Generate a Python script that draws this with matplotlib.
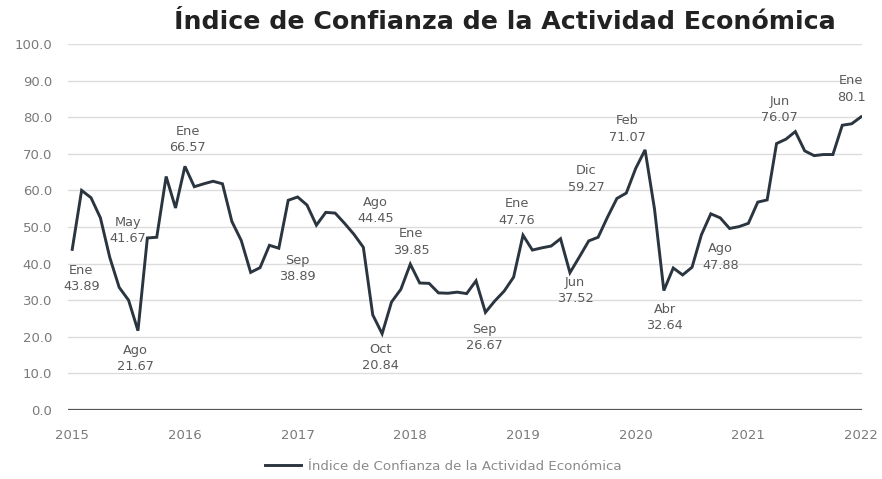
import matplotlib
matplotlib.use("Agg")
import matplotlib.pyplot as plt
import numpy as np

# Serie mensual ene-2015 a ene-2022
icae = [
    43.89, 60.0, 58.0, 52.5, 41.67, 33.5, 30.0, 21.67, 47.0, 47.2, 63.8, 55.2,   # 2015
    66.57, 61.0, 61.8, 62.5, 61.8, 51.5, 46.3, 37.6, 38.89, 45.0, 44.2, 57.3,    # 2016
    58.2, 56.0, 50.5, 54.0, 53.8, 51.0, 48.0, 44.45, 26.0, 20.84, 29.5, 33.0,    # 2017
    39.85, 34.7, 34.6, 32.0, 31.9, 32.2, 31.8, 35.3, 26.67, 29.8, 32.5, 36.3,    # 2018
    47.76, 43.7, 44.3, 44.8, 46.8, 37.52, 41.8, 46.2, 47.2, 52.7, 57.8, 59.27,   # 2019
    66.0, 71.07, 55.0, 32.64, 38.8, 36.9, 39.0, 47.88, 53.6, 52.5, 49.6, 50.1,   # 2020
    51.0, 56.8, 57.4, 72.8, 74.0, 76.07, 70.8, 69.5, 69.8, 69.8, 77.8, 78.2,     # 2021
    80.1,                                                                        # 2022
]
years = ["2015", "2016", "2017", "2018", "2019", "2020", "2021", "2022"]

# etiquetas: (indice del mes, nombre del mes)
label_idx = [0, 4, 7, 12, 20, 31, 33, 36, 44, 48, 53, 59, 61, 63, 67, 77, 84]
label_mes = ["Ene", "May", "Ago", "Ene", "Sep", "Ago", "Oct", "Ene", "Sep",
             "Ene", "Jun", "Dic", "Feb", "Abr", "Ago", "Jun", "Ene"]
# desplazamiento de cada etiqueta en pixeles
label_off = [(9, -29), (18, 27), (-3, -28), (3, 27), (37, -1), (12, 37), (-2, -24),
             (1, 22), (-1, -25), (-6, 23), (5, -18), (-40, 14), (-18, 21),
             (1, -27), (19, -22), (-16, 22), (-10, 28)]

W, H = 882, 479
fig = plt.figure(figsize=(W / 100, H / 100), dpi=100)
ax = fig.add_axes([68 / W, 1 - 410 / H, (862 - 68) / W, (410 - 44) / H])

x = np.arange(len(icae))
line_color = "#2b3540"
ax.plot(x, icae, color=line_color, lw=2.1, label="Índice de Confianza de la Actividad Económica",
        solid_joinstyle="miter")

ax.set_ylim(0, 100)
ax.set_xlim(-0.45, 84.1)
ax.set_yticks(np.arange(0, 101, 10))
ax.set_yticklabels([f"{v:.1f}" for v in np.arange(0, 101, 10)])
ax.set_xticks(np.arange(0, 85, 12))
ax.set_xticklabels(years)
ax.tick_params(axis="both", length=0, colors="#7a7a7a", labelsize=9.5)
ax.tick_params(axis="y", pad=11.5)
ax.tick_params(axis="x", pad=14)
for s in ax.spines.values():
    s.set_visible(False)
ax.grid(axis="y", color="#dcdcdc", lw=1.0)
ax.set_axisbelow(True)
ax.axhline(0, color="#555555", lw=1.6, zorder=3)

for i, m, off in zip(label_idx, label_mes, label_off):
    ax.annotate(f"{m}\n{icae[i]:g}", xy=(i, icae[i]), xytext=off, textcoords="offset pixels",
                ha="center", va="center", fontsize=9.3, color="#5a5a5a", linespacing=1.35)

fig.text(505 / W, 1 - 22 / H, "Índice de Confianza de la Actividad Económica",
         ha="center", va="center", fontsize=18.2, fontweight="bold", color="#222222")

fig.legend(loc="center", bbox_to_anchor=(443 / W, 1 - 466 / H), frameon=False,
           fontsize=9.6, handlelength=2.7, handletextpad=0.5, labelcolor="#8a8a8a")

fig.savefig("out.png", dpi=100)
